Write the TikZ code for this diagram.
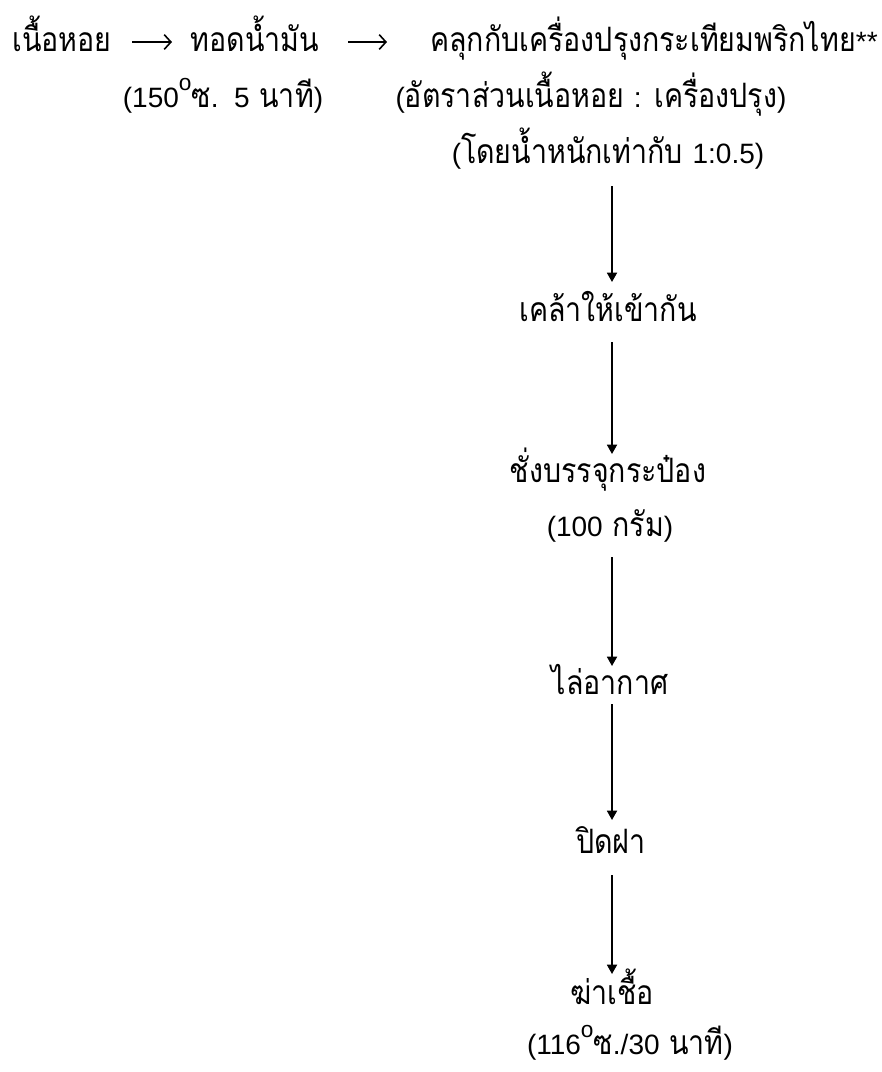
\documentclass[tikz,border=0pt]{standalone}
\usepackage{fontspec}
\setmainfont[Script=Thai,Scale=1.2,FakeStretch=0.85]{Loma}
\newfontfamily\lt{Liberation Sans}
\usetikzlibrary{arrows.meta}
\newcommand{\dg}{\raisebox{0.48em}{\fontsize{17}{17}\lt o}}
\begin{document}
\begin{tikzpicture}[x=0.75pt,y=-0.75pt,
  txt/.style={inner sep=0pt,anchor=base,text height=0pt,text depth=0pt,font=\fontsize{21}{24}\selectfont},
  varr/.style={-{Triangle[length=7pt,width=7.5pt]},line width=1.3pt},
  harr/.style={-{Straight Barb[length=5pt,width=11pt]},line width=1.2pt}]
\useasboundingbox (0,0) rectangle (882,1072);
\node[txt] (a) at (62,51) {เนื้อหอย};
\node[txt] (b) at (255,51) {ทอดน้ำมัน};
\node[txt] (c) at (654,51) {คลุกกับเครื่องปรุงกระเทียมพริกไทย{\lt **}};
\node[txt] (b2) at (223,107) {{\lt (150}\dg ซ{\lt .\ \ 5} นาที{\lt )}};
\node[txt] (c2) at (591,107) {{\lt (}อัตราส่วนเนื้อหอย {\lt :} เครื่องปรุง{\lt )}};
\node[txt] (c3) at (608,163) {{\lt (}โดยน้ำหนักเท่ากับ {\lt 1:0.5)}};
\node[txt] (d) at (608,321) {เคล้าให้เข้ากัน};
\node[txt] (e) at (608,482) {ชั่งบรรจุกระป๋อง};
\node[txt] (e2) at (610,536) {{\lt (100} กรัม{\lt )}};
\node[txt] (f) at (610,694) {ไล่อากาศ};
\node[txt] (g) at (611,853) {ปิดฝา};
\node[txt] (h) at (612,1004) {ฆ่าเชื้อ};
\node[txt] (h2) at (630,1054) {{\lt (116}\dg ซ{\lt ./30} นาที{\lt )}};
\draw[harr,shorten <=52.5pt,shorten >=62.25pt] (a.base |- 0,42) -- (b.base |- 0,42);
\draw[harr,shorten <=69.75pt,shorten >=200.25pt] (b.base |- 0,42) -- (c.base |- 0,42);
\draw[varr,shorten <=17.25pt,shorten >=29.25pt] (c3.base -| h.base) -- (d.base -| h.base);
\draw[varr,shorten <=15.75pt,shorten >=21pt] (d.base -| h.base) -- (e.base -| h.base);
\draw[varr,shorten <=15.75pt,shorten >=21pt] (e2.base -| h.base) -- (f.base -| h.base);
\draw[varr,shorten <=7.5pt,shorten >=24.75pt] (f.base -| h.base) -- (g.base -| h.base);
\draw[varr,shorten <=16.5pt,shorten >=22.5pt] (g.base -| h.base) -- (h.base);
\end{tikzpicture}
\end{document}
